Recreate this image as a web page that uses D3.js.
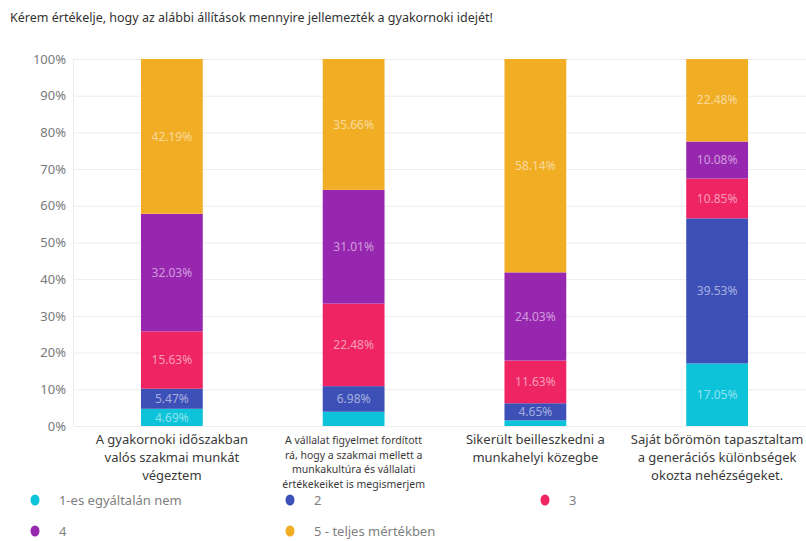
<!DOCTYPE html>
<html>
<head>
<meta charset="utf-8">
<script src="https://cdn.jsdelivr.net/npm/d3@7"></script>
<style>
  body { margin: 0; background: #fff; font-family: "Noto Sans", "Open Sans", sans-serif; }
  svg { display: block; }
</style>
</head>
<body>
<svg id="chart" width="806" height="541"></svg>
<script>
const categories = ['c1', 'c2', 'c3', 'c4'];
const categoryLines = [
  ['A gyakornoki időszakban', 'valós szakmai munkát', 'végeztem'],
  ['A vállalat figyelmet fordított', 'rá, hogy a szakmai mellett a', 'munkakultúra és vállalati', 'értékekeiket is megismerjem'],
  ['Sikerült beilleszkedni a', 'munkahelyi közegbe'],
  ['Saját bőrömön tapasztaltam', 'a generációs különbségek', 'okozta nehézségeket.']
];
const seriesNames = ['1-es egyáltalán nem', '2', '3', '4', '5 - teljes mértékben'];
const seriesColors = ['#0cc3da', '#3d50b8', '#ee2463', '#9827b0', '#f1ae25'];
const s1 = [4.69, 3.88, 1.55, 17.05];
const s2 = [5.47, 6.98, 4.65, 39.53];
const s3 = [15.63, 22.48, 11.63, 10.85];
const s4 = [32.03, 31.01, 24.03, 10.08];
const s5 = [42.19, 35.66, 58.14, 22.48];
const yTicks = [0, 10, 20, 30, 40, 50, 60, 70, 80, 90, 100];

(function() {
  const svg = d3.select('#chart');
  const series = [s1, s2, s3, s4, s5];
  const rows = categories.map((c, i) => {
    const r = {cat: c};
    series.forEach((s, k) => r['k' + k] = s[i]);
    return r;
  });
  const keys = series.map((s, k) => 'k' + k);
  const stacked = d3.stack().keys(keys)(rows);

  const x = d3.scaleBand().domain(categories).range([81, 808]).paddingInner(0.66).paddingOuter(0.33);
  const y = d3.scaleLinear().domain([0, 100]).range([426, 59]);

  svg.append('text')
    .attr('x', 10).attr('y', 22)
    .attr('font-size', 12.5).attr('fill', '#333')
    .text('Kérem értékelje, hogy az alábbi állítások mennyire jellemezték a gyakornoki idejét!');

  // grid
  const grid = svg.append('g');
  grid.selectAll('line').data(yTicks).enter().append('line')
    .attr('x1', 73).attr('x2', 806)
    .attr('y1', d => y(d) + 0.5).attr('y2', d => y(d) + 0.5)
    .attr('stroke', '#ececec');
  grid.append('line')
    .attr('x1', 73.5).attr('x2', 73.5).attr('y1', y(100)).attr('y2', y(0))
    .attr('stroke', '#ececec');

  const yAxis = d3.axisLeft(y).tickValues(yTicks).tickFormat(d => d + '%').tickSize(0).tickPadding(0);
  const ya = svg.append('g').attr('transform', 'translate(66,0)').call(yAxis);
  ya.select('.domain').remove();
  ya.selectAll('text').attr('font-size', 13).attr('fill', '#7a7a7a')
    .attr('font-family', '"Noto Sans", sans-serif');

  const layer = svg.append('g').selectAll('g').data(stacked).enter().append('g')
    .attr('fill', (d, i) => seriesColors[i]);
  layer.selectAll('rect').data(d => d).enter().append('rect')
    .attr('x', d => x(d.data.cat))
    .attr('width', x.bandwidth())
    .attr('y', d => y(d[1]))
    .attr('height', d => y(d[0]) - y(d[1]));
  layer.selectAll('text').data(d => d.filter(p => p[1] - p[0] >= 4)).enter().append('text')
    .attr('x', d => x(d.data.cat) + x.bandwidth() / 2)
    .attr('y', d => (y(d[0]) + y(d[1])) / 2)
    .attr('dy', '0.35em')
    .attr('text-anchor', 'middle')
    .attr('font-size', 12)
    .attr('fill', '#fff').attr('fill-opacity', 0.55)
    .text(d => d3.format('.2f')(d[1] - d[0]) + '%');

  // category labels
  const cl = svg.append('g').selectAll('text').data(categories).enter().append('text')
    .attr('text-anchor', 'middle')
    .attr('fill', '#3a3a3a')
    .attr('font-size', (d, i) => i === 1 ? 10.5 : 13);
  cl.each(function(d, i) {
    const lh = i === 1 ? 14.5 : 18;
    d3.select(this).selectAll('tspan').data(categoryLines[i]).enter().append('tspan')
      .attr('x', x(d) + x.bandwidth() / 2)
      .attr('y', (t, j) => 444 + j * lh)
      .text(t => t);
  });

  // legend
  const legendX = [35, 290, 545, 35, 290];
  const legendY = [500, 500, 500, 531, 531];
  const lg = svg.append('g').selectAll('g').data(seriesNames).enter().append('g')
    .attr('transform', (d, i) => 'translate(' + legendX[i] + ',' + legendY[i] + ')');
  lg.append('ellipse').attr('rx', 4.5).attr('ry', 5.5).attr('fill', (d, i) => seriesColors[i]);
  lg.append('text').attr('x', 24).attr('dy', '0.35em')
    .attr('font-size', 13).attr('fill', '#808080')
    .text(d => d);
})();
</script>
</body>
</html>
